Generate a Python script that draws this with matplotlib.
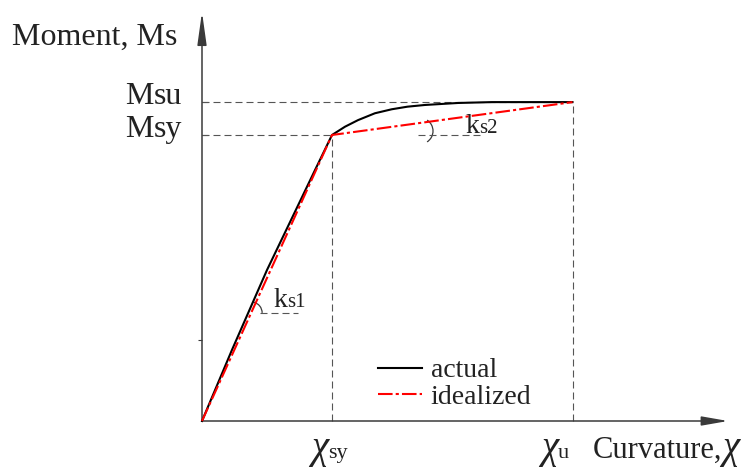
import matplotlib
matplotlib.use('Agg')
import matplotlib.pyplot as plt
from matplotlib.patches import Arc
from matplotlib.transforms import offset_copy

# Moment-curvature relation, normalised so that chi_sy = M_sy = 1
chi_sy, chi_u = 1.0, 2.85
M_sy, M_su = 1.0, 1.115

chi_actual = [0.0, 0.23, 0.50, 0.87, 1.0, 1.10, 1.20, 1.33, 1.46, 1.58, 1.715, 1.97, 2.23, 2.85]
M_actual = [0.0, 0.248, 0.528, 0.878, 1.0, 1.029, 1.052, 1.076, 1.090, 1.099, 1.105, 1.112, 1.115, 1.115]

chi_ideal = [0.0, chi_sy, chi_u]
M_ideal = [0.0, M_sy, M_su]

minor_tick = 0.283

# layout: pixels per unit on each axis, origin position in the canvas
W, H = 749, 471
PX_X, PX_Y = 130.0, 286.0
X0, Y0 = 202.0, 421.0

FONT = 'Liberation Serif'
TXT = '#222222'
AXC = '#3a3a3a'
GRID = '#555555'

plt.rcParams['font.family'] = FONT

fig = plt.figure(figsize=(W / 100, H / 100), dpi=100)
ax = fig.add_axes([0, 0, 1, 1])
ax.set_xlim(-X0 / PX_X, (W - X0) / PX_X)
ax.set_ylim(-(H - Y0) / PX_Y, Y0 / PX_Y)
for s in ax.spines.values():
    s.set_visible(False)
ax.spines['left'].set_position(('data', 0))
ax.set_xticks([])
ax.set_yticks([M_sy, M_su])
ax.set_yticklabels([])
ax.set_yticks([minor_tick], minor=True)
ax.tick_params(axis='y', which='major', direction='in', length=4, width=0.8, color=AXC)
ax.tick_params(axis='y', which='minor', direction='out', length=3, width=0.8, color=AXC)

# axes with arrow heads
y_top = 409 / PX_Y
x_end = 526 / PX_X
ax.annotate('', xy=(0, y_top), xytext=(0, 0),
            arrowprops=dict(arrowstyle='-|>,head_length=1.0,head_width=0.14',
                            mutation_scale=20, color=AXC, lw=1.1,
                            shrinkA=0, shrinkB=0))
ax.annotate('', xy=(x_end, 0), xytext=(0, 0),
            arrowprops=dict(arrowstyle='-|>,head_length=0.8,head_width=0.14',
                            mutation_scale=20, color=AXC, lw=1.1,
                            shrinkA=0, shrinkB=0))

# reference dashes
dash = (0, (6.3, 3.6))
ax.plot([0, chi_u], [M_su, M_su], color=GRID, lw=0.8, ls=dash)
ax.plot([0, chi_sy], [M_sy, M_sy], color=GRID, lw=0.8, ls=dash)
ax.plot([chi_sy, chi_sy], [0, M_sy], color=GRID, lw=0.8, ls=dash)
ax.plot([chi_u, chi_u], [0, M_su], color=GRID, lw=0.8, ls=dash)

# curves
ax.plot(chi_actual, M_actual, color='black', lw=1.5, label='actual', zorder=3)
ax.plot(chi_ideal, M_ideal, color='red', lw=1.5, ls=(0, (7, 1.5, 1.5, 1.5)),
        label='idealized', zorder=4)

# slope marks k_s1 and k_s2
c1 = 0.378
ax.plot([c1 + 9 / PX_X, c1 + 47 / PX_X], [c1, c1], color=GRID, lw=0.8, ls=dash)
ax.add_patch(Arc((c1, c1), 22 / PX_X, 22 / PX_Y, theta1=0, theta2=65,
                 color=AXC, lw=0.9))
c2 = (1.677, 1.014)
ax.plot([1.66, 2.15], [M_sy, M_sy], color=GRID, lw=0.8, ls=dash)
ax.add_patch(Arc(c2, 26 / PX_X, 26 / PX_Y, theta1=-35, theta2=35,
                 color=AXC, lw=0.9))

fig.canvas.draw()
renderer = fig.canvas.get_renderer()


def label(x, y, main, sub, size=22, sub_size=None, ha='left',
          main_style='normal', sub_style='normal'):
    # main part followed by a second part on the same baseline
    trans = ax.transData
    sub_size = sub_size or size
    t = ax.text(x, y, main, fontsize=size, color=TXT, va='baseline',
                ha='left', style=main_style, transform=trans)
    w_main = t.get_window_extent(renderer).width * 72 / fig.dpi
    s = ax.text(x, y, sub, fontsize=sub_size, color=TXT, va='baseline', ha='left',
                style=sub_style,
                transform=offset_copy(trans, fig=fig, x=w_main, units='points'))
    if ha == 'right':
        w_sub = s.get_window_extent(renderer).width * 72 / fig.dpi
        shift = -(w_main + w_sub)
        t.set_transform(offset_copy(trans, fig=fig, x=shift, units='points'))
        s.set_transform(offset_copy(trans, fig=fig, x=shift + w_main, units='points'))
    return t, s


def px(xp, yp):
    return (xp - X0) / PX_X, (Y0 - yp) / PX_Y


label(*px(12, 45), 'Moment, M', 's', size=23)
label(*px(182, 104), 'M', 'su', size=23, ha='right')
label(*px(182, 137), 'M', 'sy', size=23, ha='right')
label(*px(311, 458), 'χ', 'sy', size=28, sub_size=16, main_style='italic')
label(*px(541, 458), 'χ', 'u', size=28, sub_size=16, main_style='italic')
label(*px(593, 458), 'Curvature,', 'χ', size=22, sub_size=28, sub_style='italic')
label(*px(273, 307), 'k', 's1', size=20, sub_size=15)
label(*px(465, 133), 'k', 's2', size=20, sub_size=15)

leg = ax.legend(loc='upper left', bbox_to_anchor=(378 / W, 1 - 358 / H),
                frameon=False, fontsize=20, handlelength=1.6, handletextpad=0.3,
                labelspacing=0.03, borderpad=0, borderaxespad=0)
for t in leg.get_texts():
    t.set_color(TXT)

fig.savefig('out.png', dpi=100)
